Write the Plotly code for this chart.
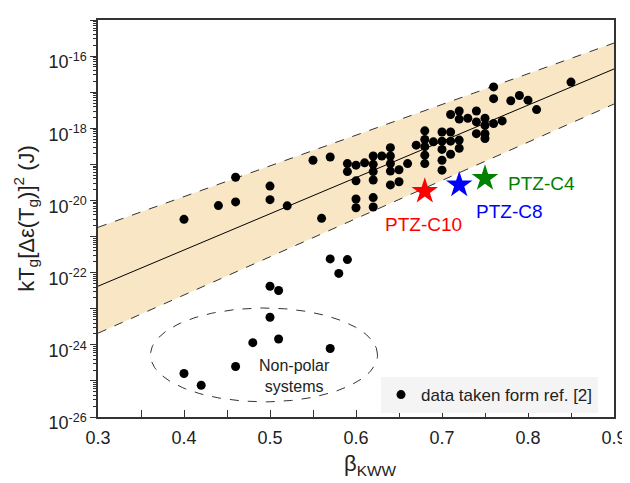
import numpy as np
import plotly.graph_objects as go

# ---------------- data ----------------
beta_kww = [0.40, 0.44, 0.46, 0.46, 0.50, 0.50, 0.52, 0.55, 0.56, 0.57,
            0.59, 0.59, 0.60, 0.60, 0.60, 0.60, 0.61,
            0.62, 0.62, 0.62, 0.62, 0.62, 0.62, 0.63,
            0.64, 0.64, 0.64, 0.64, 0.64, 0.65, 0.65, 0.66, 0.67,
            0.68, 0.68, 0.68, 0.68, 0.68, 0.69,
            0.70, 0.70, 0.70, 0.70, 0.70,
            0.71, 0.71, 0.71, 0.71,
            0.72, 0.72, 0.72, 0.72, 0.73,
            0.74, 0.74, 0.74,
            0.75, 0.75, 0.75, 0.75,
            0.76, 0.76, 0.76, 0.77, 0.78, 0.79, 0.80, 0.81, 0.85,
            # low / non-polar systems
            0.57, 0.59, 0.58, 0.50, 0.51, 0.50, 0.48, 0.51, 0.57, 0.46, 0.40, 0.42]
energy = [3.0e-21, 7.2e-21, 4.4e-20, 9.1e-21, 2.5e-20, 1.05e-20, 7.1e-21, 1.3e-19, 3.2e-21, 1.6e-19,
          1.05e-19, 6.3e-20, 9.5e-20, 3.5e-20, 1.1e-20, 6.3e-21, 1.1e-19,
          1.7e-19, 1.0e-19, 6.3e-20, 3.7e-20, 1.2e-20, 6.6e-21, 1.7e-19,
          2.9e-19, 1.7e-19, 1.05e-19, 6.5e-20, 2.7e-20, 7.1e-20, 3.3e-20, 1.05e-19, 3.4e-19,
          8.5e-19, 4.9e-19, 3.1e-19, 1.8e-19, 1.05e-19, 4.2e-19,
          7.9e-19, 4.4e-19, 2.6e-19, 1.3e-19, 6.9e-20,
          2.4e-18, 7.9e-19, 4.4e-19, 1.9e-19,
          3.0e-18, 1.8e-18, 4.7e-19, 2.8e-19, 1.9e-18,
          3.0e-18, 1.5e-18, 7.1e-19,
          1.9e-18, 1.2e-18, 7.1e-19, 5.2e-19,
          1.4e-17, 6.6e-18, 1.35e-18, 1.6e-18, 5.8e-18, 8.1e-18, 6.0e-18, 3.3e-18, 1.9e-17,
          2.4e-22, 2.3e-22, 9.5e-23, 4.2e-23, 3.2e-23, 5.8e-24, 1.15e-24, 1.45e-24, 7.9e-25, 2.5e-25, 1.6e-25, 7.6e-26]

ptz_names = ["PTZ-C10", "PTZ-C8", "PTZ-C4"]
ptz_beta = [0.68, 0.72, 0.75]
ptz_energy = [1.8e-20, 2.7e-20, 4.1e-20]
ptz_colors = ["#FF0000", "#0000FF", "#008000"]
ptz_label_x = [0.678, 0.779, 0.816]
ptz_label_logy = [-20.67, -20.31, -19.53]

fit_x = [0.3, 0.9]
fit_y = [4.2e-23, 4.4e-17]
band_upper = [1.8e-21, 2.3e-16]
band_lower = [2.1e-24, 4.7e-18]

ellipse_center = (0.493, -24.28)   # beta, log10(E)
ellipse_radius = (0.132, 1.30)

x_ticks = [0.3, 0.4, 0.5, 0.6, 0.7, 0.8, 0.9]
y_exponents = list(range(-26, -14))

FONT = "Liberation Sans, Arial, sans-serif"

fig = go.Figure()

# shaded band
fig.add_trace(go.Scatter(x=fit_x, y=band_lower, mode="lines",
                         line=dict(color="#333333", width=1, dash="dash"),
                         showlegend=False, hoverinfo="skip"))
fig.add_trace(go.Scatter(x=fit_x, y=band_upper, mode="lines", fill="tonexty",
                         fillcolor="#F8E6C4",
                         line=dict(color="#333333", width=1, dash="dash"),
                         showlegend=False, hoverinfo="skip"))
# fit line
fig.add_trace(go.Scatter(x=fit_x, y=fit_y, mode="lines",
                         line=dict(color="#000000", width=1),
                         showlegend=False, hoverinfo="skip"))

# ellipse around non-polar systems
t = np.linspace(0, 2 * np.pi, 200)
ex = ellipse_center[0] + ellipse_radius[0] * np.cos(t)
ey = 10 ** (ellipse_center[1] + ellipse_radius[1] * np.sin(t))
fig.add_trace(go.Scatter(x=ex, y=ey, mode="lines",
                         line=dict(color="#333333", width=1, dash="dash"),
                         showlegend=False, hoverinfo="skip"))

# data points
fig.add_trace(go.Scatter(x=beta_kww, y=energy, mode="markers",
                         marker=dict(color="#000000", size=9, symbol="circle"),
                         name="data taken form ref. [2]"))

# PTZ stars
for name, bx, ey_, c in zip(ptz_names, ptz_beta, ptz_energy, ptz_colors):
    fig.add_trace(go.Scatter(x=[bx], y=[ey_], mode="markers",
                             marker=dict(color=c, size=20, symbol="star",
                                         line=dict(width=0)),
                             showlegend=False, name=name))

annotations = []
for name, lx, ly, c in zip(ptz_names, ptz_label_x, ptz_label_logy, ptz_colors):
    annotations.append(dict(x=lx, y=ly, xref="x", yref="y", text=name,
                            showarrow=False, font=dict(family=FONT, size=19, color=c)))
annotations.append(dict(x=0.529, y=-24.87, xref="x", yref="y",
                        text="Non-polar<br>systems", showarrow=False,
                        font=dict(family=FONT, size=16, color="#222222")))
# x-axis title
annotations.append(dict(x=0.527, y=0, xref="paper", yref="paper",
                        xanchor="center", yanchor="middle", yshift=-48,
                        text="β<sub>KWW</sub>", showarrow=False,
                        font=dict(family=FONT, size=22, color="#222222")))

# page body adds an 8px offset, so the figure is sized to fit the 630x483 window
fig.update_layout(
    width=622, height=475,
    margin=dict(l=90, r=16, t=12, b=66),
    paper_bgcolor="white", plot_bgcolor="white",
    font=dict(family=FONT, size=18, color="#222222"),
    annotations=annotations,
    legend=dict(x=0.969, y=0.01, xanchor="right", yanchor="bottom",
                bgcolor="#F4F4F4", borderwidth=0,
                font=dict(family=FONT, size=17, color="#222222")),
)

fig.update_xaxes(
    range=[0.3, 0.9], tickvals=x_ticks, ticktext=[f"{v:.1f}" for v in x_ticks],
    ticks="inside", ticklen=7, tickwidth=1, tickcolor="#333333",
    minor=dict(dtick=0.05, tick0=0.3, ticks="inside", ticklen=7, tickcolor="#333333"),
    showline=True, linecolor="#333333", linewidth=1.5, mirror=True,
    showgrid=False, zeroline=False, automargin=False,
    ticklabelstandoff=4,
    tickfont=dict(family=FONT, size=18),
)

minor_vals = [k * 10.0 ** e for e in y_exponents[:-1] for k in range(2, 10)]
fig.update_yaxes(
    type="log", range=[-26, -15],
    tickvals=[10.0 ** e for e in y_exponents],
    ticktext=[(f"10<sup>{e}</sup>" if e % 2 == 0 else "") for e in y_exponents],
    ticks="outside", ticklen=6, tickwidth=1, tickcolor="#333333",
    minor=dict(tickvals=minor_vals, ticks="outside", ticklen=3, tickcolor="#333333"),
    showline=True, linecolor="#333333", linewidth=1.5, mirror=True,
    showgrid=False, zeroline=False, automargin=False,
    ticklabelshift=6,
    title=dict(text="kT<sub>g</sub>[Δε(T<sub>g</sub>)]<sup>2</sup> (J)",
               font=dict(family=FONT, size=22), standoff=8),
    tickfont=dict(family=FONT, size=18),
)

fig.write_html("out.html")
